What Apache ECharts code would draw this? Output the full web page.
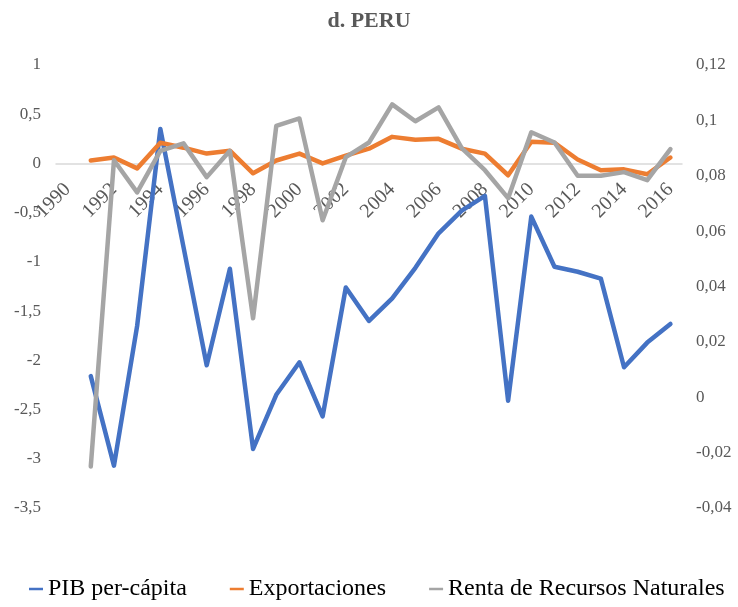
<!DOCTYPE html>
<html lang="es">
<head>
    <meta charset="utf-8"/>
    <title>d. PERU</title>
    <style>
        html, body { margin: 0; padding: 0; background: #fff; }
        #chart { width: 738px; height: 607px; }
    </style>
</head>
<body>
<div id="chart"></div>
<script src="https://cdn.jsdelivr.net/npm/echarts@6/dist/echarts.min.js"></script>
<script type="text/javascript">
    // años
    var years = ['1990', '1991', '1992', '1993', '1994', '1995', '1996', '1997', '1998', '1999',
        '2000', '2001', '2002', '2003', '2004', '2005', '2006', '2007', '2008', '2009',
        '2010', '2011', '2012', '2013', '2014', '2015', '2016'];

    // eje izquierdo
    var pibPerCapita = [null, -2.16, -3.07, -1.65, 0.35, -0.85, -2.05, -1.07, -2.90, -2.35,
        -2.02, -2.57, -1.26, -1.60, -1.37, -1.06, -0.71, -0.48, -0.33, -2.41,
        -0.54, -1.05, -1.10, -1.17, -2.07, -1.82, -1.63];
    var exportaciones = [null, 0.03, 0.06, -0.05, 0.21, 0.16, 0.10, 0.13, -0.10, 0.03,
        0.10, 0.00, 0.08, 0.15, 0.27, 0.24, 0.25, 0.15, 0.10, -0.12,
        0.22, 0.21, 0.04, -0.07, -0.06, -0.11, 0.06];

    // eje derecho
    var rentaRecursos = [null, -0.025, 0.0856, 0.074, 0.089, 0.0917, 0.0795, 0.089, 0.0285, 0.098,
        0.1007, 0.0639, 0.0867, 0.092, 0.1058, 0.0997, 0.1047, 0.090, 0.082, 0.0719,
        0.0957, 0.092, 0.080, 0.080, 0.0813, 0.0784, 0.0896];

    var fontSerif = '"Liberation Serif", "DejaVu Serif", serif';
    var grayText = '#595959';

    // límites del eje izquierdo, para colocar el eje X en el cero
    var leftMin = -3.5, leftMax = 1;
    var gridTop = 65, gridBottom = 99, chartHeight = 607;
    var plotHeight = chartHeight - gridTop - gridBottom;
    var zeroOffset = -plotHeight * (0 - leftMin) / (leftMax - leftMin);

    function fmt(v) {
        return String(+v.toFixed(2)).replace('.', ',');
    }

    var myChart = echarts.init(document.getElementById('chart'));

    var option = {
        backgroundColor: '#fff',
        animation: false,
        title: {
            text: 'd. PERU',
            left: 'center',
            top: 5,
            textStyle: { fontFamily: fontSerif, fontSize: 22, fontWeight: 'bold', color: grayText }
        },
        legend: {
            bottom: 1,
            left: 24,
            itemGap: 43,
            itemWidth: 14,
            itemHeight: 2.5,
            itemTextGap: 4,
            icon: 'rect',
            textStyle: { fontFamily: fontSerif, fontSize: 24, color: '#000' },
            data: ['PIB per-cápita', 'Exportaciones', 'Renta de Recursos Naturales']
        },
        grid: { left: 56, right: 56, top: gridTop, bottom: gridBottom },
        xAxis: [{
            // etiquetas de años
            type: 'category',
            data: years,
            boundaryGap: true,
            position: 'bottom',
            offset: zeroOffset,
            axisLine: { show: false, onZero: false },
            axisTick: { show: false },
            axisLabel: {
                interval: 1,
                rotate: 45,
                margin: 23,
                fontFamily: fontSerif,
                fontSize: 20,
                color: grayText
            },
            splitLine: { show: false }
        }, {
            // línea del cero, debajo de las series
            type: 'category',
            data: years,
            boundaryGap: true,
            position: 'bottom',
            offset: zeroOffset,
            z: 0,
            axisLine: { show: true, onZero: false, lineStyle: { color: '#d9d9d9', width: 1.5 } },
            axisTick: { show: false },
            axisLabel: { show: false },
            splitLine: { show: false }
        }],
        yAxis: [{
            type: 'value',
            min: leftMin,
            max: leftMax,
            interval: 0.5,
            axisLine: { show: false },
            axisTick: { show: false },
            splitLine: { show: false },
            axisLabel: { margin: 15, fontFamily: fontSerif, fontSize: 17, color: grayText, formatter: fmt }
        }, {
            type: 'value',
            min: -0.04,
            max: 0.12,
            interval: 0.02,
            axisLine: { show: false },
            axisTick: { show: false },
            splitLine: { show: false },
            axisLabel: { margin: 14, fontFamily: fontSerif, fontSize: 17, color: grayText, formatter: fmt }
        }],
        series: [{
            name: 'PIB per-cápita',
            type: 'line',
            xAxisIndex: 0,
            yAxisIndex: 0,
            data: pibPerCapita,
            symbol: 'none',
            itemStyle: { color: '#4472C4' },
            lineStyle: { color: '#4472C4', width: 4.5, cap: 'round', join: 'round' },
            z: 3
        }, {
            name: 'Exportaciones',
            type: 'line',
            xAxisIndex: 0,
            yAxisIndex: 0,
            data: exportaciones,
            symbol: 'none',
            itemStyle: { color: '#ED7D31' },
            lineStyle: { color: '#ED7D31', width: 4.5, cap: 'round', join: 'round' },
            z: 4
        }, {
            name: 'Renta de Recursos Naturales',
            type: 'line',
            xAxisIndex: 0,
            yAxisIndex: 1,
            data: rentaRecursos,
            symbol: 'none',
            itemStyle: { color: '#A5A5A5' },
            lineStyle: { color: '#A5A5A5', width: 4.5, cap: 'round', join: 'round' },
            z: 5
        }]
    };

    myChart.setOption(option, true);
</script>
</body>
</html>
